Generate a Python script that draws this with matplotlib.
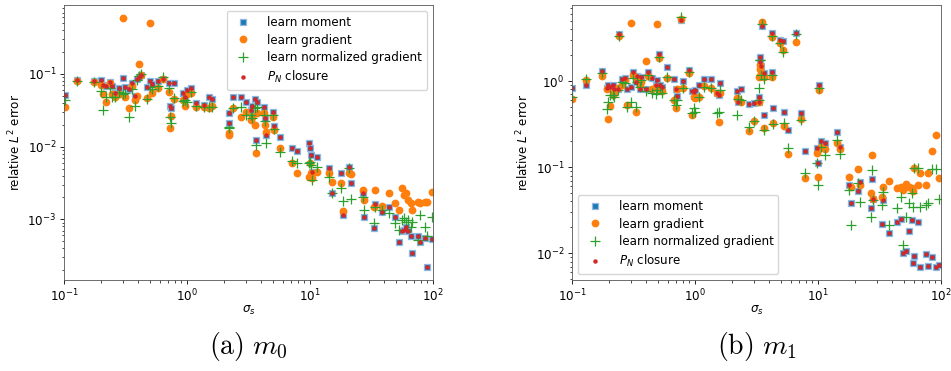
import matplotlib

matplotlib.use("Agg")
import matplotlib.pyplot as plt

plt.rcParams["font.size"] = 8.6
plt.rcParams["mathtext.fontset"] = "dejavusans"

# ---- m0: sigma_s and relative L2 error per method ----
sigma_m0 = [0.102, 0.128, 0.175, 0.200, 0.206, 0.219, 0.236, 0.245, 0.261, 0.278,
            0.300, 0.313, 0.340, 0.357, 0.380, 0.394, 0.407, 0.425, 0.475, 0.500,
            0.519, 0.577, 0.641, 0.709, 0.726, 0.745, 0.783, 0.932, 0.967, 1.004,
            1.069, 1.181, 1.372, 1.506, 1.603, 2.176, 2.203, 2.375, 2.724, 2.991,
            3.284, 3.388, 3.539, 3.606, 3.674, 4.216, 4.268, 4.348, 5.017, 5.111,
            5.756, 7.16, 7.86, 9.78, 9.96, 10.15, 10.47, 11.50, 14.30, 15.03,
            17.79, 18.59, 20.80, 21.45, 27.02, 27.53, 33.19, 33.81, 38.79, 43.94,
            49.15, 52.97, 55.68, 58.17, 60.01, 62.70, 65.89, 68.0, 75.6, 79.0,
            85.6, 90.0, 97.6]
moment_m0 = [0.0514, 0.0827, 0.0801, 0.0827, 0.0706, 0.0684, 0.0784, 0.0684, 0.0542, 0.0635,
             0.0890, 0.0655, 0.0615, 0.0744, 0.0498, 0.0845, 0.0900, 0.0959, 0.0655, 0.0810,
             0.0729, 0.0801, 0.0845, 0.0744, 0.0363, 0.0337, 0.0744, 0.0542, 0.0488, 0.0602,
             0.0635, 0.0395, 0.0375, 0.0477, 0.0448, 0.0294, 0.0210, 0.0477, 0.0488, 0.0416,
             0.0319, 0.0363, 0.0448, 0.0124, 0.0416, 0.0348, 0.0245, 0.0145, 0.0303, 0.0193,
             0.0137, 0.00949, 0.00881, 0.01135, 0.00949, 0.00768, 0.00453, 0.00729, 0.00503, 0.00228,
             0.00439, 0.00115, 0.00520, 0.00320, 0.00233, 0.00107, 0.00075, 0.00163, 0.00127, 0.00149,
             0.00107, 0.00049, 0.00068, 0.00071, 0.00079, 0.00068, 0.00059, 0.00034, 0.00058, 0.00049,
             0.00055, 0.00022, 0.00053]
gradient_m0 = [0.0355, 0.0801, 0.0784, 0.0706, 0.0531, 0.0416, 0.0760, 0.0531, 0.0488, 0.0531,
               0.596, 0.0488, 0.0337, 0.0684, 0.0439, 0.0498, 0.136, 0.0969, 0.0463, 0.509,
               0.0542, 0.0635, 0.0845, 0.0571, 0.0179, 0.0264, 0.0448, 0.0439, 0.0363, 0.0531,
               0.0542, 0.0348, 0.0348, 0.0337, 0.0363, 0.0153, 0.0145, 0.0337, 0.0253, 0.0303,
               0.0233, 0.0259, 0.0199, 0.00827, 0.0288, 0.0288, 0.0199, 0.0161, 0.0259, 0.0170,
               0.00949, 0.00590, 0.00439, 0.00387, 0.00590, 0.00430, 0.00367, 0.00453, 0.00430, 0.00330,
               0.00313, 0.00132, 0.00430, 0.00416, 0.00253, 0.00185, 0.00149, 0.00253, 0.00153, 0.00228,
               0.00166, 0.00134, 0.00267, 0.00216, 0.00228, 0.00185, 0.00166, 0.00134, 0.00175, 0.00170,
               0.00171, 0.00175, 0.00240]
normgrad_m0 = [0.0439, 0.0801, 0.0768, 0.0590, 0.0319, 0.0477, 0.0635, 0.0488, 0.0477, 0.0571,
               0.0531, 0.0553, 0.0259, 0.0615, 0.0363, 0.0827, 0.0939, 0.100, 0.0448, 0.0655,
               0.0615, 0.0684, 0.0900, 0.0635, 0.0259, 0.0214, 0.0463, 0.0425, 0.0439, 0.0416,
               0.0571, 0.0363, 0.0355, 0.0355, 0.0355, 0.0188, 0.0179, 0.0337, 0.0348, 0.0273,
               0.0273, 0.0245, 0.0337, 0.0105, 0.0355, 0.0273, 0.0228, 0.0111, 0.0273, 0.0173,
               0.00853, 0.00642, 0.00590, 0.00590, 0.00622, 0.00559, 0.00348, 0.00531, 0.00387, 0.00233,
               0.00267, 0.00179, 0.00503, 0.00188, 0.00205, 0.00134, 0.00088, 0.00149, 0.00134, 0.00121,
               0.00090, 0.00071, 0.00098, 0.00103, 0.00093, 0.00098, 0.00079, 0.00093, 0.00052, 0.00115,
               0.00079, 0.00058, 0.00109]
closure_m0 = list(moment_m0)

# ---- m1 ----
sigma_m1 = [0.1006, 0.129, 0.174, 0.191, 0.197, 0.202, 0.217, 0.219, 0.236, 0.241,
            0.256, 0.268, 0.282, 0.300, 0.315, 0.329, 0.339, 0.355, 0.364, 0.402,
            0.417, 0.449, 0.478, 0.494, 0.509, 0.522, 0.542, 0.595, 0.674, 0.695,
            0.717, 0.764, 0.803, 0.892, 0.949, 0.974, 1.004, 1.069, 1.174, 1.347,
            1.506, 1.554, 1.603, 2.190, 2.218, 2.360, 2.724, 2.991, 3.284, 3.31,
            3.346, 3.388, 3.430, 3.495, 3.606, 3.651, 4.216, 4.24, 4.295, 4.925,
            5.177, 5.307, 5.756, 6.644, 7.251, 7.86, 9.78, 9.96, 10.28, 10.54,
            11.43, 14.21, 15.13, 18.02, 18.59, 21.32, 21.99, 27.35, 27.02, 27.87,
            32.98, 33.60, 38.07, 43.67, 47.06, 49.47, 51.99, 55.34, 57.81, 60.39,
            58.9, 65.49, 67.56, 75.6, 79.0, 84.0, 91.1, 97.0]
moment_m1 = [0.822, 0.899, 1.31, 0.822, 0.899, 0.844, 0.899, 0.800, 0.800, 3.48,
             1.07, 1.10, 0.800, 0.860, 1.28, 0.982, 1.14, 0.800, 1.12, 0.800,
             1.28, 1.10, 0.899, 1.03, 2.09, 0.899, 0.844, 1.47, 1.05, 0.800,
             0.670, 5.10, 1.00, 1.34, 0.772, 0.752, 0.786, 0.899, 1.07, 1.05,
             0.732, 0.688, 0.939, 0.772, 0.576, 0.800, 0.541, 0.551, 0.576, 0.646,
             1.68, 1.92, 1.49, 4.35, 1.25, 0.403, 3.64, 1.28, 0.482, 3.04,
             2.91, 0.441, 0.270, 3.64, 0.429, 0.155, 0.165, 0.113, 0.899, 0.203,
             0.189, 0.258, 0.173, 0.0621, 0.0380, 0.0534, 0.0679, 0.0723, 0.0333, 0.0423,
             0.0219, 0.0416, 0.0171, 0.0233, 0.0248, 0.0102, 0.0107, 0.0183, 0.0244, 0.0093,
             0.0077, 0.0233, 0.0070, 0.0098, 0.0071, 0.0090, 0.0070, 0.0073]
gradient_m1 = [0.618, 1.03, 1.14, 0.800, 0.359, 0.513, 0.688, 0.752, 0.822, 3.33,
               0.899, 1.03, 0.527, 4.67, 1.17, 0.441, 1.03, 0.875, 0.982, 1.71,
               1.14, 0.800, 0.844, 4.59, 1.83, 0.800, 0.772, 1.10, 0.602, 0.482,
               0.800, 5.20, 0.822, 1.25, 0.403, 0.658, 0.629, 0.658, 0.875, 0.822,
               0.719, 0.337, 0.719, 0.629, 0.602, 0.576, 0.265, 0.347, 0.576, 1.12,
               1.53, 1.37, 1.25, 4.88, 1.12, 0.282, 3.21, 1.12, 0.323, 2.74,
               2.29, 0.300, 0.142, 2.86, 0.359, 0.0742, 0.145, 0.0776, 0.786, 0.173,
               0.161, 0.193, 0.161, 0.0776, 0.0594, 0.0944, 0.0621, 0.138, 0.0497, 0.0423,
               0.0447, 0.0594, 0.0688, 0.0568, 0.0594, 0.0543, 0.0638, 0.0594, 0.0568, 0.0969,
               0.0534, 0.0621, 0.0864, 0.0621, 0.0864, 0.155, 0.236, 0.0742]
normgrad_m1 = [0.658, 1.05, 1.25, 0.469, 0.576, 0.688, 0.688, 0.658, 0.786, 3.33,
               0.982, 0.956, 0.495, 0.576, 1.10, 0.495, 0.982, 0.844, 1.03, 0.772,
               1.17, 0.719, 0.707, 0.786, 1.88, 0.844, 0.732, 1.12, 0.602, 0.527,
               0.602, 5.48, 0.822, 1.28, 0.421, 0.482, 0.441, 0.658, 0.844, 0.822,
               0.421, 0.441, 0.786, 0.403, 0.613, 0.602, 0.295, 0.347, 0.602, 0.822,
               1.75, 1.75, 1.17, 4.59, 1.07, 0.270, 3.33, 1.17, 0.317, 2.79,
               2.19, 0.323, 0.165, 3.57, 0.353, 0.0848, 0.111, 0.0621, 0.822, 0.173,
               0.138, 0.207, 0.142, 0.0543, 0.0213, 0.0661, 0.0398, 0.0927, 0.0262, 0.0416,
               0.0364, 0.0520, 0.0213, 0.0333, 0.0455, 0.0125, 0.0266, 0.0380, 0.0497, 0.0969,
               0.0348, 0.0969, 0.0348, 0.0364, 0.0387, 0.0944, 0.0944, 0.043]
closure_m1 = list(moment_m1)

panels = [
    (sigma_m0, moment_m0, gradient_m0, normgrad_m0, closure_m0,
     (1.46e-4, 0.89), "upper right", r"$\mathrm{(a)}\ m_0$"),
    (sigma_m1, moment_m1, gradient_m1, normgrad_m1, closure_m1,
     (4.9e-3, 7.65), "lower left", r"$\mathrm{(b)}\ m_1$"),
]

fig = plt.figure(figsize=(9.51, 3.71), dpi=100)
lefts = [64 / 951, 572 / 951]

for left, (sig, mom, grad, ngrad, pn, ylim, loc, caption) in zip(lefts, panels):
    ax = fig.add_axes([left, 91 / 371, 369 / 951, 275 / 371])
    ax.plot(sig, mom, "s", ls="none", color="#1f77b4", ms=4.6,
            mec="#8db9e0", mew=0.9, label="learn moment")
    ax.plot(sig, grad, "o", ls="none", color="#ff7f0e", ms=4.6, label="learn gradient")
    ax.plot(sig, ngrad, "+", ls="none", color="#2ca02c", ms=6.8, mew=0.9,
            label="learn normalized gradient")
    ax.plot(sig, pn, ".", ls="none", color="#d62728", ms=4.4, label=r"$P_N$ closure")
    ax.set_xscale("log")
    ax.set_yscale("log")
    ax.set_xlim(0.1, 100)
    ax.set_ylim(*ylim)
    ax.set_xlabel(r"$\sigma_s$", labelpad=0)
    ax.set_ylabel(r"relative $L^2$ error", labelpad=3)
    for s in ax.spines.values():
        s.set_color("#555555")
        s.set_linewidth(0.6)
    ax.tick_params(width=0.6, length=3, labelsize=8.6, pad=2.5)
    ax.tick_params(which="minor", width=0.5, length=1.8)
    ax.legend(loc=loc, fontsize=8.6, handletextpad=1.0, borderpad=0.4,
              labelspacing=0.4, framealpha=0.8, edgecolor="#cccccc")
    fig.text(left + 369 / 951 / 2, 0.045, caption, ha="center",
             fontsize=20, math_fontfamily="cm")

fig.savefig("out.png", dpi=100)
